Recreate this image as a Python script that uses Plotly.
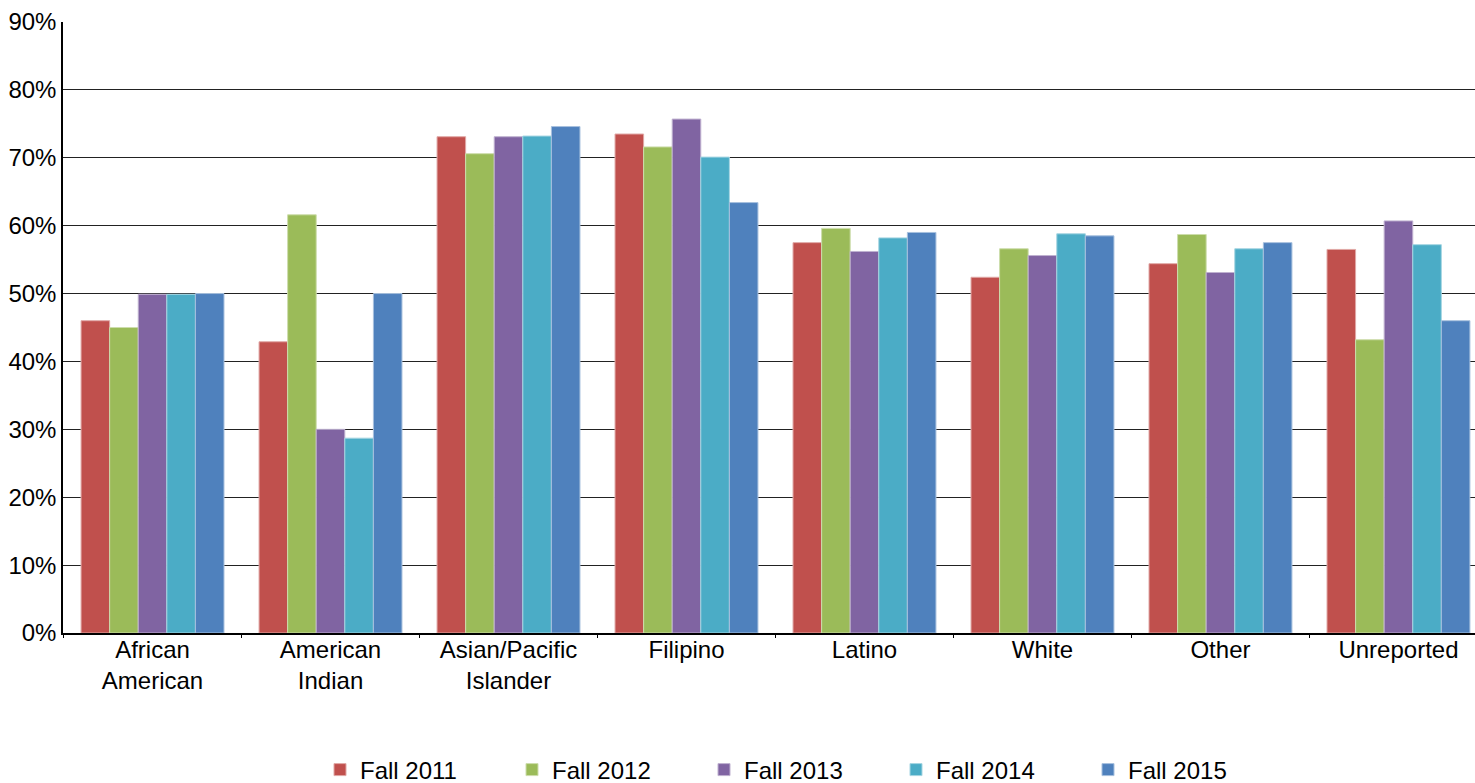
import plotly.graph_objects as go

categories = ["African<br>American", "American<br>Indian", "Asian/Pacific<br>Islander", "Filipino",
              "Latino", "White", "Other", "Unreported"]
series_names = ["Fall 2011", "Fall 2012", "Fall 2013", "Fall 2014", "Fall 2015"]
fall_2011 = [46.0, 42.9, 73.1, 73.5, 57.5, 52.4, 54.4, 56.5]
fall_2012 = [45.0, 61.6, 70.6, 71.6, 59.6, 56.6, 58.7, 43.2]
fall_2013 = [49.9, 30.0, 73.1, 75.7, 56.2, 55.6, 53.1, 60.7]
fall_2014 = [49.9, 28.7, 73.2, 70.1, 58.2, 58.8, 56.6, 57.2]
fall_2015 = [50.0, 50.0, 74.6, 63.4, 59.0, 58.5, 57.5, 46.0]
y_ticks = [0, 10, 20, 30, 40, 50, 60, 70, 80, 90]
y_tick_labels = ["0%", "10%", "20%", "30%", "40%", "50%", "60%", "70%", "80%", "90%"]

colors = ["#C0504D", "#9BBB59", "#8064A2", "#4BACC6", "#4F81BD"]
edge = ["#E0A8A6", "#CDDDAC", "#BFB1D0", "#A5D5E2", "#A7C0DE"]
values = [fall_2011, fall_2012, fall_2013, fall_2014, fall_2015]

fig = go.Figure()
for name, vals, c, e in zip(series_names, values, colors, edge):
    fig.add_trace(go.Bar(x=categories, y=vals, name=name,
                         marker=dict(color=c, line=dict(color=e, width=1))))

fig.update_layout(
    width=1475, height=783,
    barmode="group", bargap=0.197, bargroupgap=0,
    plot_bgcolor="white", paper_bgcolor="white",
    margin=dict(l=63, r=0, t=22, b=150, autoexpand=False),
    font=dict(family="Liberation Sans, Arial, sans-serif", color="black"),
    legend=dict(orientation="h", xref="container", yref="container",
                x=320 / 1475, xanchor="left", y=13 / 783, yanchor="middle",
                font=dict(size=24), entrywidth=147, entrywidthmode="pixels",
                traceorder="normal", tracegroupgap=0),
    showlegend=True,
)
fig.update_yaxes(range=[0, 90], tickmode="array", tickvals=y_ticks, ticktext=y_tick_labels,
                 showgrid=True, gridcolor="#222", gridwidth=1,
                 showline=True, linecolor="black", linewidth=1.5,
                 ticks="", tickfont=dict(size=24), zeroline=False)
fig.update_xaxes(range=[-0.503, 7.43],
                 showline=True, linecolor="black", linewidth=1.5,
                 ticks="outside", tickson="boundaries", ticklen=3, tickcolor="black",
                 ticklabelstandoff=-6,
                 tickfont=dict(size=24))

fig.write_html("out.html", config={"displayModeBar": False},
               post_script="document.body.style.margin='0';")
